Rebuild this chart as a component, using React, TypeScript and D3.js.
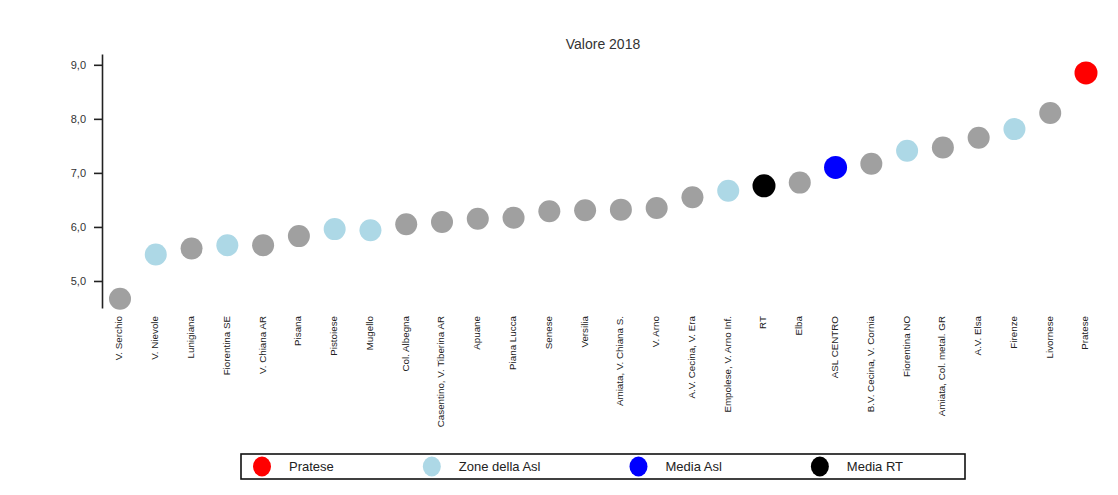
import { useEffect, useRef } from "react"
import * as d3 from "d3"

const categories = [
  "V. Serchio", "V. Nievole", "Lunigiana", "Fiorentina SE", "V. Chiana AR", "Pisana",
  "Pistoiese", "Mugello", "Col. Albegna", "Casentino, V. Tiberina AR", "Apuane", "Piana Lucca",
  "Senese", "Versilia", "Amiata, V. Chiana S.", "V. Arno", "A.V. Cecina, V. Era",
  "Empolese, V. Arno Inf.", "RT", "Elba", "ASL CENTRO", "B.V. Cecina, V. Cornia",
  "Fiorentina NO", "Amiata, Col. metal. GR", "A.V. Elsa", "Firenze", "Livornese", "Pratese",
]

const values = [
  4.67, 5.49, 5.6, 5.66, 5.66, 5.83, 5.96, 5.94, 6.05, 6.09, 6.15, 6.17,
  6.29, 6.31, 6.32, 6.35, 6.55, 6.67, 6.76, 6.82, 7.1, 7.17, 7.41, 7.47, 7.65, 7.81, 8.11, 8.85,
]

// group of each point: 0 = other zones, 1 = Pratese, 2 = Zone della Asl, 3 = Media Asl, 4 = Media RT
const groups = [
  0, 2, 0, 2, 0, 0, 2, 2, 0, 0, 0, 0,
  0, 0, 0, 0, 0, 2, 4, 0, 3, 0, 2, 0, 0, 2, 0, 1,
]

const groupColors = ["#a0a0a0", "#ff0000", "#add8e6", "#0000ff", "#000000"]

const legendLabels = ["Pratese", "Zone della Asl", "Media Asl", "Media RT"]
const legendColors = ["#ff0000", "#add8e6", "#0000ff", "#000000"]

const yTicks = [5, 6, 7, 8, 9]

export default function App() {
  const svgRef = useRef<SVGSVGElement>(null)

  useEffect(() => {
    if (!svgRef.current) return
    d3.select(svgRef.current).selectAll("*").remove()

    const width = 1118
    const height = 495
    const font = "Arial, 'Liberation Sans', sans-serif"

    const svg = d3.select(svgRef.current).attr("width", width).attr("height", height)

    svg.append("rect").attr("width", width).attr("height", height).attr("fill", "#fff")

    const x = d3.scalePoint<string>().domain(categories).range([120, 1086])
    const y = d3.scaleLinear().domain([4.5, 9.2]).range([308, 54])

    // Title
    svg
      .append("text")
      .attr("x", 603)
      .attr("y", 49)
      .attr("text-anchor", "middle")
      .style("font-family", font)
      .style("font-size", "14px")
      .style("fill", "#333")
      .text("Valore 2018")

    // Y axis
    const yAxis = svg
      .append("g")
      .attr("transform", "translate(102,0)")
      .call(
        d3
          .axisLeft(y)
          .tickValues(yTicks)
          .tickSize(8)
          .tickSizeOuter(0)
          .tickPadding(8)
          .tickFormat((d) => d3.format(".1f")(d as number).replace(".", ","))
      )
    yAxis.select(".domain").attr("stroke", "#222").attr("stroke-width", 1.6)
    yAxis.selectAll(".tick line").attr("stroke", "#222").attr("stroke-width", 1.6)
    yAxis
      .selectAll(".tick text")
      .style("font-family", font)
      .style("font-size", "11px")
      .style("fill", "#333")

    // Points
    svg
      .selectAll(".dot")
      .data(categories)
      .enter()
      .append("circle")
      .attr("class", "dot")
      .attr("cx", (d) => x(d) || 0)
      .attr("cy", (_d, i) => y(values[i]))
      .attr("r", (_d, i) => (groups[i] === 0 || groups[i] === 2 ? 11 : 11.5))
      .attr("fill", (_d, i) => groupColors[groups[i]])

    // Category labels
    svg
      .selectAll(".cat")
      .data(categories)
      .enter()
      .append("text")
      .attr("class", "cat")
      .attr("transform", (d) => `translate(${(x(d) || 0) - 1},316) rotate(-90)`)
      .attr("text-anchor", "end")
      .attr("dy", "0.35em")
      .style("font-family", font)
      .style("font-size", "9.8px")
      .style("fill", "#222")
      .text((d) => d)

    // Legend
    svg
      .append("rect")
      .attr("x", 241)
      .attr("y", 454)
      .attr("width", 724)
      .attr("height", 25)
      .attr("fill", "none")
      .attr("stroke", "#111")
      .attr("stroke-width", 1.6)

    let cursor = 262
    legendLabels.forEach((label, i) => {
      const g = svg.append("g").attr("transform", `translate(${cursor},466.5)`)
      g.append("ellipse").attr("rx", 9).attr("ry", 10).attr("fill", legendColors[i])
      const t = g
        .append("text")
        .attr("x", 27)
        .attr("dy", "0.35em")
        .style("font-family", font)
        .style("font-size", "13px")
        .style("fill", "#222")
        .text(label)
      const w = (t.node() as SVGTextElement).getComputedTextLength()
      cursor += w + 125
    })
  }, [])

  return <svg ref={svgRef} style={{ position: "absolute", left: 0, top: 0 }}></svg>
}
